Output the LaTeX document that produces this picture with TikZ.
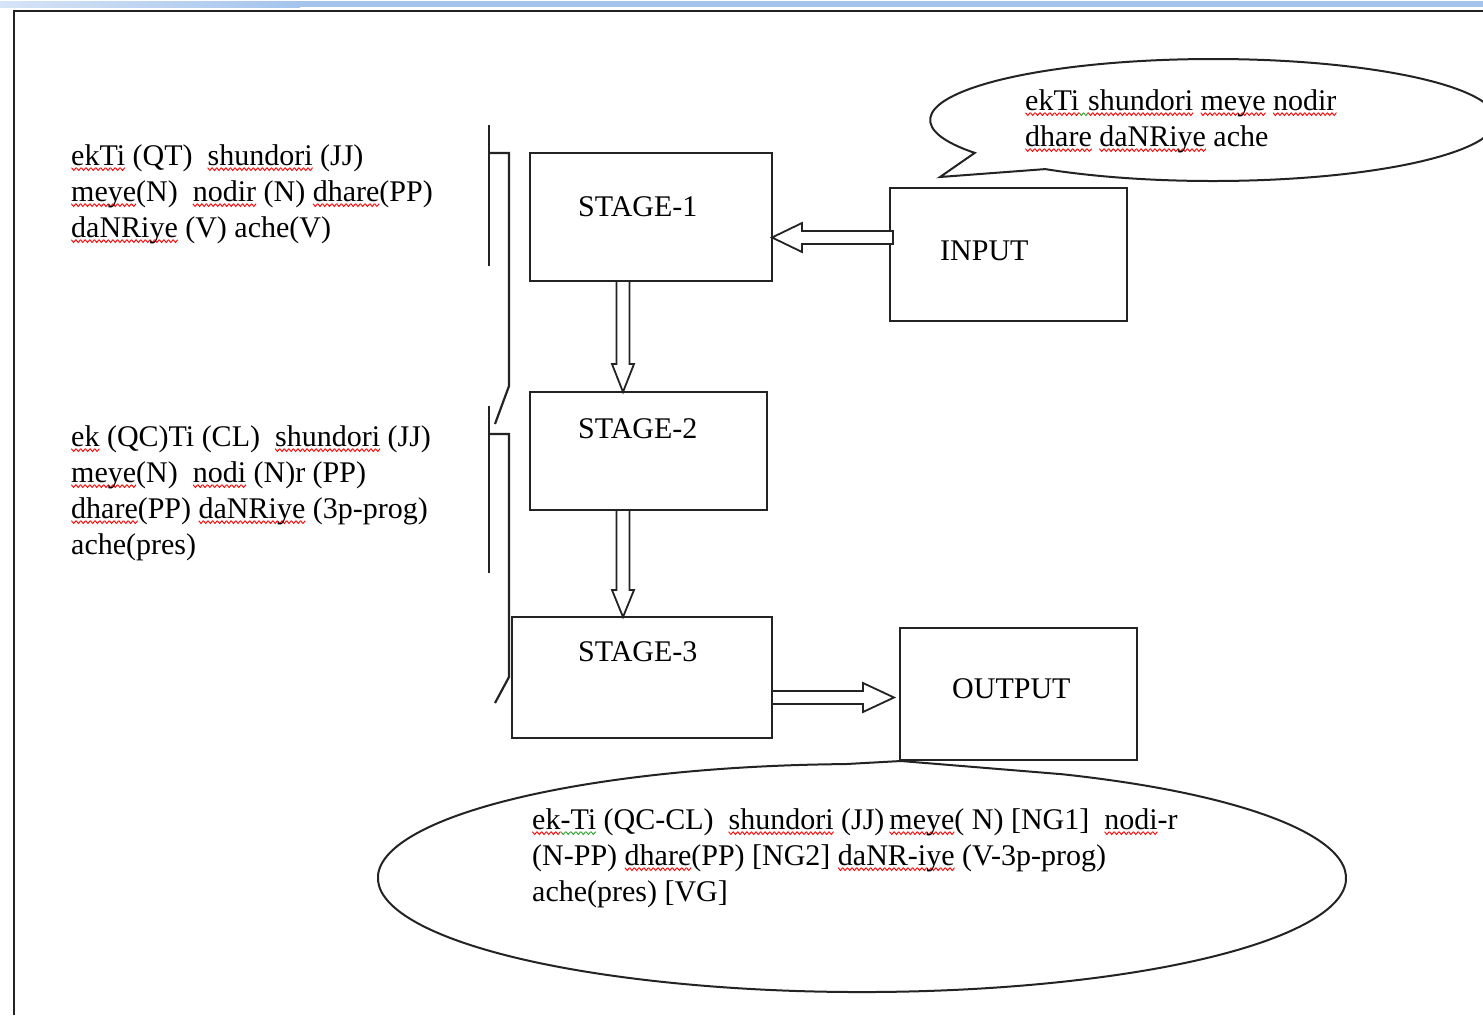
\documentclass[tikz,border=0pt]{standalone}
\usepackage{fontspec}
\setmainfont{Liberation Serif}
\usetikzlibrary{calc}
\definecolor{band}{RGB}{164,196,236}
\definecolor{bandlight}{RGB}{214,228,246}
\definecolor{ink}{RGB}{35,35,35}
\definecolor{sqgreen}{RGB}{40,160,40}
\newsavebox\wavered
\newsavebox\wavegreen
\newsavebox\wordbox
\newcommand\mkwave[2]{\sbox#1{\begin{pgfpicture}\pgfsetlinewidth{0.9pt}\pgfsetstrokecolor{#2}%
  \pgfpathmoveto{\pgfpoint{0pt}{0pt}}\pgfpathlineto{\pgfpoint{2.25pt}{-2.8pt}}\pgfpathlineto{\pgfpoint{4.5pt}{0pt}}%
  \pgfusepath{stroke}\pgfresetboundingbox
  \pgfpathrectangle{\pgfpoint{0pt}{0pt}}{\pgfpoint{4.5pt}{0pt}}\pgfusepath{use as bounding box}\end{pgfpicture}}}
\newcommand\sq[1]{\sbox\wordbox{#1}\rlap{\raisebox{-2.5pt}{\hbox to\wd\wordbox{\xleaders\copy\wavered\hfill}}}\usebox\wordbox}
\newcommand\sg[1]{\sbox\wordbox{#1}\rlap{\raisebox{-2.5pt}{\hbox to\wd\wordbox{\xleaders\copy\wavegreen\hfill}}}\usebox\wordbox}
\begin{document}
\mkwave{\wavered}{red}%
\mkwave{\wavegreen}{sqgreen}%
\begin{tikzpicture}[x=1pt,y=-1pt,
  box/.style={draw=ink,line width=2pt,rectangle,inner sep=0pt,outer sep=0pt,anchor=north west},
  txt/.style={font=\fontsize{30}{36}\selectfont,inner sep=0pt,align=left,anchor=north west},
  lbl/.style={font=\fontsize{30}{36}\selectfont,inner sep=0pt,anchor=base west},
  bar/.style={draw=ink,line width=2.2pt},
  callout/.style={draw=ink,line width=2pt},
  hollow/.style 2 args={draw=ink,line width=1.8pt,fill=white,line join=miter,
    to path={let \p1=(\tikztostart),\p2=(\tikztotarget),\n1={atan2(\y2-\y1,\x2-\x1)} in
      ($(\p1)+(\n1+90:6.5pt)$) -- ($(\p2)+(\n1+180:#2)+(\n1+90:6.5pt)$)
      -- ($(\p2)+(\n1+180:#2)+(\n1+90:#1)$) -- (\p2)
      -- ($(\p2)+(\n1+180:#2)+(\n1-90:#1)$) -- ($(\p2)+(\n1+180:#2)+(\n1-90:6.5pt)$)
      -- ($(\p1)+(\n1-90:6.5pt)$) -- cycle}}
]
\useasboundingbox (0,0) rectangle (1483,1015);
% window frame
\fill[left color=bandlight,right color=band] (0,1) rectangle (300,7);
\fill[band] (300,1) rectangle (1483,7);
\draw[ink,line width=2pt] (14,1015) -- (14,11) -- (1483,11);

% boxes
\node[box,minimum width=242pt,minimum height=128pt] (s1) at (530,153) {};
\node[box,minimum width=237pt,minimum height=118pt] (s2) at (530,392) {};
\node[box,minimum width=260pt,minimum height=121pt] (s3) at (512,617) {};
\node[box,minimum width=237pt,minimum height=133pt] (inp) at (890,188) {};
\node[box,minimum width=237pt,minimum height=132pt] (out) at (900,628) {};

\node[lbl] (s1t) at (578,216) {STAGE-1};
\node[lbl] (s2t) at (578,438) {STAGE-2};
\node[lbl] (s3t) at (578,661) {STAGE-3};
\node[lbl] (inpt) at (940,260) {INPUT};
\node[lbl] (outt) at (952,698) {OUTPUT};

% arrows
\coordinate (a1) at ($(inp.west)+(3,-17)$);
\coordinate (b1) at (s1.east |- a1);
\coordinate (a2) at ($(s1.south west)+(93,0)$);
\coordinate (b2) at (s2.north -| a2);
\coordinate (a3) at ($(s2.south west)+(93,0)$);
\coordinate (b3) at (s3.north -| a3);
\coordinate (a4) at ($(s3.east)+(0,20)$);
\coordinate (b4) at ($(out.west |- a4)+(-6,0)$);
\draw[hollow={14.5pt}{30pt}] (a1) to (b1);
\draw[hollow={11pt}{28pt}] (a2) to (b2);
\draw[hollow={11pt}{27pt}] (a3) to (b3);
\draw[hollow={14.5pt}{31pt}] (a4) to (b4);

% brackets
\draw[bar] (489,125) -- (489,266);
\draw[bar] (489,153) -- (509,153) -- (509,386) -- (495,424);
\draw[bar] (489,406) -- (489,573);
\draw[bar] (489,434) -- (509,434) -- (509,677) -- (495,703);

% left annotations
\node[txt] (t1) at (71,141) {\rule{0pt}{24pt}\sq{ekTi} (QT)\ \ \sq{shundori} (JJ)\\
  \sq{meye}(N)\ \ \sq{nodir} (N) \sq{dhare}(PP)\\
  \sq{daNRiye} (V) ache(V)};
\node[txt] (t2) at (71,422) {\rule{0pt}{24pt}\sq{ek} (QC)Ti (CL)\ \ \sq{shundori} (JJ)\\
  \sq{meye}(N)\ \ \sq{nodi} (N)r (PP)\\
  \sq{dhare}(PP) \sq{daNRiye} (3p-prog)\\
  ache(pres)};

% callouts
\draw[callout] (1045.2,169.1) arc[start angle=233.6,end angle=572.6,x radius=283pt,y radius=61pt] -- (940,177) -- cycle;
\node[txt] (c1) at (1025,86) {\rule{0pt}{24pt}\sq{ekTi}\sg{\hbox to 9pt{}}\sq{shundori} \sq{meye} \sq{nodir}\\
  \sq{dhare} \sq{daNRiye} ache};

\draw[callout] (901,761) -- (1061.9,774.2) arc[start angle=65.6,end angle=-268,x radius=484pt,y radius=114pt] -- cycle;
\node[txt] (c2) at (532,805) {\rule{0pt}{24pt}\sq{ek}\sg{-Ti} (QC-CL)\ \ \sq{shundori} (JJ)\,\sq{meye}( N) [NG1]\ \ \sq{nodi}-r\\
  (N-PP) \sq{dhare}(PP) [NG2] \sq{daNR-iye} (V-3p-prog)\\
  ache(pres) [VG]};
\end{tikzpicture}
\end{document}
